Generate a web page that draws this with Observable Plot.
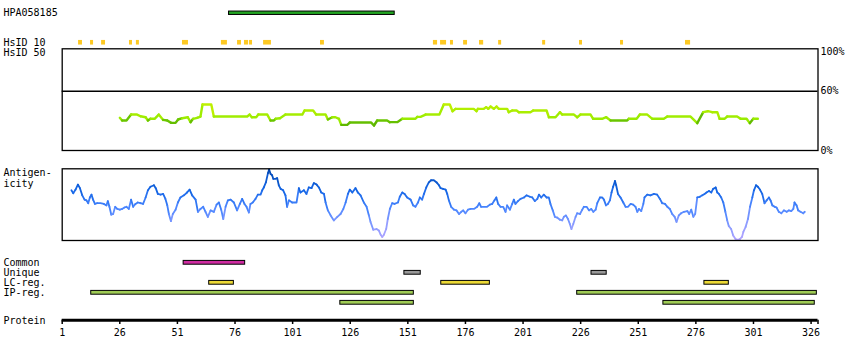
<!DOCTYPE html>
<html><head><meta charset="utf-8">
<script src="https://cdn.jsdelivr.net/npm/d3@7"></script>
<script src="https://cdn.jsdelivr.net/npm/@observablehq/plot@0.6"></script>
<style>
html,body{margin:0;padding:0;background:#fff;}
#chart{position:relative;width:850px;height:360px;overflow:hidden;background:#fff;}
#chart svg{position:absolute;left:0;display:block;}
</style></head><body><div id="chart"></div>
<script>
// ---------- data ----------
const proteinLength = 328;
const antibody = "HPA058185";
const antibodyStart = 73.4, antibodyEnd = 145.3;

const hsid10Start = [8.1, 13.3, 18.1, 30.2, 33.2, 53.2, 70.1, 77.1, 80.1, 82.3, 88.4, 113.1, 162.1, 165.2, 169.5, 175.2, 182.1, 190.4, 209.5, 225.5, 243.3, 271.5];
const hsid10End   = [9.8, 14.6, 19.8, 31.5, 34.5, 55.8, 72.7, 78.8, 81.9, 83.6, 91.8, 114.8, 163.9, 167.8, 170.8, 176.9, 183.9, 191.7, 210.8, 226.8, 244.6, 273.7];

const simRes = [26.0,27.0,28.9,30.9,33.5,35.0,37.2,38.2,39.3,41.1,42.9,44.8,46.6,48.3,50.2,51.3,53.1,55.5,56.7,57.8,59.6,61.0,61.9,65.7,66.8,81.3,82.3,83.3,85.2,86.1,90.0,91.4,92.9,93.6,95.5,97.9,105.2,106.2,109.9,111.2,115.3,116.3,118.2,119.6,121.1,122.1,124.7,125.8,135.1,136.3,137.7,142.0,143.2,146.4,148.6,154.3,155.1,
  156.5,158.7,164.7,166.6,169.2,170.4,171.7,179.6,180.8,181.4,184.0,185.0,185.9,186.9,188.3,189.5,190.5,194.1,194.8,196.3,198.2,199.2,204.2,205.4,211.2,212.2,215.1,217.0,218.0,223.1,224.5,225.9,230.3,231.4,235.3,237.1,239.0,246.2,246.9,250.3,251.7,254.9,257.1,262.1,263.6,273.7,276.6,279.2,281.2,283.1,285.3,286.3,288.4,289.6,293.9,295.4,298.0,299.4,300.9,302.9];
const simPct = [33.1,30.4,30.4,36.4,36.4,34.7,33.7,30.4,32.1,32.1,36.4,31.0,30.4,28.0,28.0,31.4,32.7,33.7,28.7,32.1,33.1,34.4,46.6,46.6,34.4,34.4,36.4,33.7,33.7,36.4,36.4,30.4,30.4,32.1,32.7,36.4,36.4,40.5,40.5,36.4,36.4,31.4,33.7,33.7,32.1,26.0,26.0,28.3,28.3,25.3,30.4,30.4,28.7,28.7,32.1,32.1,34.1,
  34.1,36.4,36.4,46.6,46.6,39.8,42.2,42.2,39.8,42.2,42.2,43.9,42.2,44.5,42.2,44.5,42.2,42.2,38.8,40.5,40.5,38.8,38.8,40.5,40.5,33.7,33.7,38.8,36.4,36.4,33.7,36.4,36.4,32.1,32.1,33.7,30.4,30.4,32.1,32.1,36.4,36.4,32.1,32.1,34.4,34.4,27.7,38.8,39.8,38.8,38.8,32.1,32.1,34.4,34.4,32.1,32.1,27.7,32.1,32.1];
const pctTicks = [0, 60, 100];

const antRes = [5.0,5.8,6.8,7.8,8.7,9.7,10.7,11.5,12.3,13.0,13.7,14.4,15.2,16.2,17.6,19.1,20.2,20.8,21.5,22.3,23.1,24.0,24.9,26.0,27.0,28.0,28.9,29.9,30.9,31.8,32.8,33.8,35.0,36.1,37.2,38.2,39.3,40.8,41.6,42.5,43.7,44.8,45.8,46.6,47.3,48.2,49.0,50.2,51.2,52.3,53.8,55.2,56.3,57.4,58.9,59.9,61.0,62.2,63.2,64.2,65.4,66.8,68.0,69.0,70.0,70.9,71.9,72.9,74.1,75.5,76.9,78.1,79.1,80.1,81.0,82.0,82.7,83.7,84.9,85.9,87.1,87.8,88.5,89.4,90.3,90.8,91.4,92.1,92.6,93.6,94.3,95.0,95.8,96.9,97.9,98.6,99.4,100.8,102.7,103.7,104.4,105.9,107.0,108.0,109.2,110.2,111.4,112.4,113.4,114.6,115.3,116.3,117.5,118.9,120.4,121.8,123.0,124.0,125.0,125.8,126.9,128.3,129.3,130.5,131.9,133.1,134.1,134.8,136.0,137.4,138.4,139.2,139.9,140.6,141.6,142.3,143.2,144.2,145.2,146.7,147.5,148.6,149.6,150.7,152.2,153.3,154.3,155.4,156.2,
  157.2,158.0,159.0,160.1,161.1,162.3,163.5,164.5,165.2,166.3,167.4,168.1,168.8,169.8,171.0,172.1,173.2,174.2,175.0,176.0,177.1,178.2,179.7,181.1,182.0,182.8,184.0,185.4,186.6,187.6,188.6,189.4,190.2,191.2,192.4,193.4,194.1,195.3,196.3,197.0,197.7,198.8,199.9,201.4,202.5,204.0,205.0,206.1,207.2,207.9,208.9,210.0,211.2,212.2,212.9,213.9,214.8,215.8,217.0,218.0,218.7,219.6,220.5,221.3,222.0,222.8,223.8,224.5,225.7,226.7,227.4,228.6,229.6,230.6,231.5,232.5,233.2,234.4,235.4,236.1,237.0,237.8,238.7,239.4,240.1,240.9,241.4,242.2,243.3,244.5,245.5,246.5,247.7,248.8,249.8,250.6,251.3,252.3,253.2,253.7,254.9,256.3,257.8,259.2,260.4,261.4,262.6,263.6,264.7,265.7,266.8,267.6,268.6,269.6,270.8,272.3,273.1,274.0,274.9,275.7,276.6,277.7,278.8,279.8,280.6,281.7,282.7,283.5,284.6,285.3,286.0,287.0,287.9,288.8,289.6,290.3,291.3,292.2,293.2,294.2,295.1,296.0,296.6,297.6,298.6,299.5,300.5,301.2,302.1,302.9,303.8,304.8,305.8,306.7,307.7,308.4,309.2,310.2,311.0,312.0,313.1,314.2,315.4,316.4,317.4,318.3,318.8,319.7,320.4,321.4,322.6,323.2];
const antVal = [70,66,71,78,73,63,57,56,52,60,64,57,51,52,52,51,49,55,47,36,37,47,44,43,44,46,47,44,57,47,51,53,52,51,60,70,75,77,73,65,64,65,58,49,37,27,37,43,53,60,63,67,71,63,57,40,44,47,40,33,42,40,50,53,43,30,47,56,57,53,42,51,58,51,47,39,51,53,58,64,64,70,74,81,94,99,93,91,86,86,87,77,72,70,63,47,56,53,53,73,67,70,65,74,73,80,78,74,67,65,53,42,35,28,33,37,44,53,65,71,67,73,67,63,53,47,35,26,15,16,14,8,5,8,16,30,44,52,51,53,61,67,65,60,57,49,47,53,60,
  57,65,74,81,84,84,81,77,73,72,71,65,56,47,43,42,37,40,42,38,43,44,44,47,52,47,47,47,50,51,56,60,51,47,47,40,49,43,51,57,51,55,58,60,63,61,60,55,58,64,60,64,60,60,51,42,33,32,29,28,33,35,30,23,16,23,33,38,37,43,47,47,42,44,40,43,52,60,60,57,49,51,56,67,75,83,77,65,60,53,47,47,51,50,47,40,44,41,51,60,64,63,65,64,58,52,51,47,44,37,33,26,35,38,40,41,37,43,33,37,60,61,63,65,67,69,67,72,74,67,65,60,53,40,28,20,16,7,2,1,2,5,12,19,30,47,60,70,77,75,71,65,52,56,60,56,49,47,46,40,38,42,40,42,41,44,53,49,42,40,38,40];

const trackNames  = ["Common", "Unique", "LC-reg.", "IP-reg.", "IP-reg. (2)"];
const trackLabels = ["Common", "Unique", "LC-reg.", "IP-reg."];
const trackColors = ["#cf2ba1", "#999999", "#ecd936", "#9fcb55", "#9fcb55"];
const featTrack = ["Common", "Unique", "Unique", "LC-reg.", "LC-reg.", "LC-reg.", "IP-reg.", "IP-reg.", "IP-reg. (2)", "IP-reg. (2)"];
const featStart = [53.7, 149.5, 230.7, 64.8, 165.5, 279.7, 13.6, 224.5, 121.7, 261.9];
const featEnd   = [80.4, 156.6, 237.3, 75.5, 186.6, 290.3, 153.6, 328.5, 153.6, 327.6];

const axisTicks = [1, 26, 51, 76, 101, 126, 151, 176, 201, 226, 251, 276, 301, 326];

// ---------- build ----------
const chart = document.getElementById("chart");
const font = "'DejaVu Sans Mono', monospace";
const base = (h) => ({
  width: 850, height: h, marginLeft: 61.7, marginRight: 32.5,
  x: {domain: [1, proteinLength + 1], axis: null},
  style: {fontFamily: font, fontSize: "10px", background: "transparent", color: "black"}
});
const labelOpts = {frameAnchor: "left", dx: -58.7, textAnchor: "start", fontSize: 10, fill: "black"};
function place(svg, top) { svg.style.top = top + "px"; chart.appendChild(svg); }

// A: antibody + HsID 10
const topRows = [antibody, "HsID 10"];
const abData = [{track: antibody, start: antibodyStart, end: antibodyEnd}];
const hsData = hsid10Start.map((s, i) => ({track: "HsID 10", start: s, end: hsid10End[i]}));
place(Plot.plot({
  ...base(47), marginTop: 0, marginBottom: 0,
  y: {type: "band", domain: topRows, range: [-2, 57], padding: 0, round: false, axis: null},
  marks: [
    Plot.barX(abData, {x1: "start", x2: "end", y: "track", fill: "#21a321", stroke: "black", strokeWidth: 1, insetTop: 13.05, insetBottom: 13.05}),
    Plot.barX(hsData, {x1: "start", x2: "end", y: "track", fill: "#fdc923", insetTop: 12.45, insetBottom: 12.45}),
    Plot.text(topRows, {y: d => d, text: d => d, ...labelOpts})
  ]
}), 0);

// B: HsID 50 similarity panel
const simData = simRes.map((r, i) => ({res: r, pct: simPct[i]}));
place(Plot.plot({
  ...base(120), marginTop: 8.3, marginBottom: 10,
  y: {domain: [0, 103], axis: null},
  color: {type: "linear", domain: [25, 31.5, 32, 47], range: ["#5cb400", "#6cc800", "#9aec00", "#bef000"]},
  marks: [
    Plot.ruleY([60], {stroke: "black", strokeWidth: 1.3}),
    Plot.line(simData, {x: "res", y: "pct", stroke: "pct", z: null, strokeWidth: 2.4}),
    Plot.frame({stroke: "black", strokeWidth: 1.3}),
    Plot.text(pctTicks, {y: d => d, text: d => d + "%", frameAnchor: "right", dx: 2.5, textAnchor: "start", fontSize: 10, fill: "black"}),
    Plot.text(["HsID 50"], {text: d => d, frameAnchor: "top-left", dx: -58.7, dy: 4.2, textAnchor: "start", lineAnchor: "middle", fontSize: 10, fill: "black"})
  ]
}), 40);

// C: antigenicity panel
const antData = antRes.map((r, i) => ({res: r, v: antVal[i]}));
place(Plot.plot({
  ...base(90), marginTop: 8.3, marginBottom: 10,
  y: {domain: [0, 100], axis: null},
  color: {type: "linear", domain: [0, 20, 45, 70, 100], range: ["#b4a4ff", "#8c9cff", "#4a86ff", "#1566e6", "#0046b0"]},
  marks: [
    Plot.line(antData, {x: "res", y: "v", stroke: "v", z: null, strokeWidth: 1.8}),
    Plot.frame({stroke: "black", strokeWidth: 1.3}),
    Plot.text(["Antigen-\nicity"], {text: d => d, frameAnchor: "top-left", dx: -58.7, dy: 9.45, textAnchor: "start", lineAnchor: "middle", lineHeight: 1.05, fontSize: 10, fill: "black"})
  ]
}), 160);

// D: feature tracks
const featData = featTrack.map((t, i) => ({track: t, start: featStart[i], end: featEnd[i]}));
place(Plot.plot({
  ...base(60), marginTop: 0, marginBottom: 0,
  y: {type: "band", domain: trackNames, range: [7.3, 57.3], padding: 0, round: false, axis: null},
  color: {domain: trackNames, range: trackColors},
  marks: [
    Plot.barX(featData, {x1: "start", x2: "end", y: "track", fill: "track", stroke: "black", strokeWidth: 1, insetTop: 3.1, insetBottom: 3.1}),
    Plot.text(trackLabels, {y: d => d, text: d => d, ...labelOpts})
  ]
}), 250);

// E: protein axis
place(Plot.plot({
  ...base(50), marginTop: 0, marginBottom: 30,
  y: {domain: [0, 1], range: [9.7, 22], axis: null},
  marks: [
    Plot.ruleY([0], {stroke: "black", strokeWidth: 3}),
    Plot.ruleX([...axisTicks, proteinLength + 1], {x: d => d, y1: () => 0, y2: () => 0.35, stroke: "black", strokeWidth: 1.5}),
    Plot.text(axisTicks, {x: d => d, y: () => 1, text: d => String(d), fontSize: 10, fill: "black"}),
    Plot.text(["Protein"], {text: d => d, ...labelOpts})
  ]
}), 310);
</script></body></html>
